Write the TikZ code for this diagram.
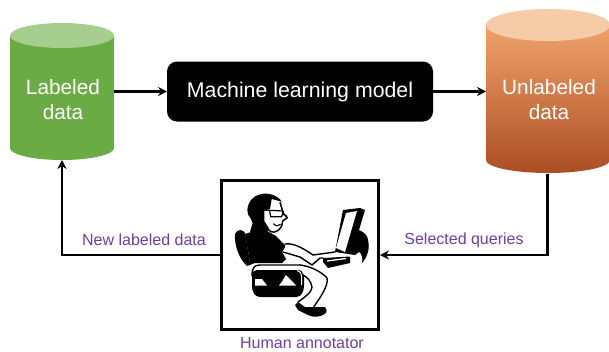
\documentclass[tikz,border=0pt]{standalone}
\usepackage{fontspec}
\setmainfont{Liberation Sans}
\usetikzlibrary{arrows.meta}
\definecolor{grn}{HTML}{6AAB46}
\definecolor{grntop}{HTML}{A6CE8E}
\definecolor{orgtop}{HTML}{F6CBA8}
\definecolor{purp}{HTML}{6F3FA0}
\tikzset{
 x=1pt,y=-1pt,
 anchorbox/.style={minimum width=#1,inner sep=0pt,outer sep=0pt},
 celltext/.style={text=white,font=\fontsize{20.8}{25}\selectfont,align=center},
 flow/.style={line width=2.8pt,-{Stealth[length=9pt,width=9pt]}},
 lab/.style={text=purp,inner sep=0pt,font=\fontsize{16}{16}\selectfont},
 inkline/.style={draw=black,line width=1.4pt,fill=none,line join=round,line cap=round},
}
\begin{document}
\begin{tikzpicture}
\useasboundingbox (0,0) rectangle (609,351);
\fill[white] (0,0) rectangle (609,351);
% green cylinder
\fill[grn] (10,35.5) -- (10,148) arc[start angle=180,end angle=360,x radius=52,y radius=-12] -- (114,35.5) -- cycle;
\fill[grntop] (62,35.5) ellipse[x radius=52,y radius=12.5];
% orange cylinder
\begin{scope}
\clip (0,0) rectangle (609,351);
\shade[top color={rgb,255:red,240;green,162;blue,106},middle color={rgb,255:red,232;green,128;blue,50},bottom color={rgb,255:red,172;green,78;blue,36}]
  (486,25) -- (486,160) arc[start angle=180,end angle=360,x radius=62,y radius=-13] -- (610,25) -- cycle;
\fill[orgtop] (548,25) ellipse[x radius=62,y radius=16];
\end{scope}
\node[anchorbox=104pt,minimum height=137pt] (labeled) at (62,91.5) {};
\node[anchorbox=123pt,minimum height=164pt] (unlabeled) at (547.5,91.5) {};
\node[celltext] (labeledtext) at (63,100) {Labeled\\data};
\node[celltext] (unlabeledtext) at (549,100) {Unlabeled\\data};
% model
\node[fill=black,rounded corners=10pt,minimum width=266pt,minimum height=60pt,inner sep=0pt,outer sep=0pt,text=white,font=\fontsize{21.3}{24}\selectfont] (model) at (300,91.5) {Machine learning model};
% annotator
\node[draw=black,line width=3pt,fill=white,minimum width=157pt,minimum height=149pt,inner sep=0pt,outer sep=1.5pt] (annot) at (300,255) {};
% connectors
\draw[flow] (labeled.east) -- (model.west);
\draw[flow] (model.east) -- (unlabeled.west);
\draw[flow] (annot.west) -| (labeled.south);
\draw[flow] (unlabeled.south) |- (annot.east);
\node[lab] (newlab) at (144,240) {New labeled data};
\node[lab] (selq) at (464,240) {Selected queries};
\node[lab] (humann) at (302,343) {Human annotator};
% --- person ---
% chair back
\fill[black] (235,234) .. controls (237,229) and (243,229) .. (245,233) -- (250,262) -- (247,266) .. controls (240,260) and (234,246) .. (235,234) -- cycle;
% seat
\draw[inkline] (252,276) .. controls (252,268) and (254,265) .. (260,265) -- (300,265);
\fill[black] (252,276) .. controls (252,272) and (254,270) .. (257,270) -- (298,270) .. controls (302,270) and (304,273) .. (304,278) -- (304,286) .. controls (304,292) and (301,297) .. (296,297) -- (260,297) .. controls (255,297) and (252,292) .. (252,286) -- cycle;
\fill[white] (255,279) .. controls (259,279) and (261,279) .. (262,279) -- (267,285.5) -- (255,285.5) -- cycle;
\fill[white] (279,285.5) .. controls (282,282) and (284,278) .. (286,275) .. controls (289,278) and (293,282) .. (296,285.5) -- cycle;
\draw[white,line width=1pt] (297,270.5) .. controls (300,271) and (301.5,273) .. (301.5,276) -- (301.5,285);
% leg
\fill[white] (300,266) .. controls (310,267) and (322,272) .. (327,278) .. controls (329,285) and (320,298) .. (313,308) -- (298,302) .. controls (308,295) and (312,290) .. (312,287) .. controls (310,280) and (307,276) .. (303,274) -- cycle;
\draw[inkline] (300,265) .. controls (310,266) and (322,272) .. (327,278) .. controls (329,285) and (320,298) .. (313,308);
\draw[inkline] (303,275) .. controls (307,277) and (311,281) .. (312,287) .. controls (312,292) and (305,297) .. (298,302);
% shoe
\fill[black] (295,305) -- (298,302) .. controls (301,304) and (303,306) .. (305,307) -- (325,307) .. controls (327,309) and (327,311) .. (326,313) .. controls (322,317) and (313,318) .. (308,315) -- (298,310) -- cycle;
% torso
\fill[black] (245,234) .. controls (252,231) and (260,231) .. (267,231) -- (276,236) -- (286,246) -- (282,252) -- (286,259) -- (282,263) -- (255,263) -- (247,266) -- (250,262) -- cycle;
% head
\begin{scope}[shift={(230,185)},x=0.3333pt,y=-0.3333pt]
\fill[black] (52,75) .. controls (54,50) and (70,32) .. (90,28) .. controls (110,22) and (140,28) .. (156,50) -- (125,42) -- (120,72) -- (103,76) -- (103,108) -- (118,132) -- (105,145) -- (60,140) -- (68,115) -- (62,100) .. controls (55,95) and (52,85) .. (52,75) -- cycle;
\draw[black,line width=1.5pt,line join=round] (150,52) -- (160,85) -- (172,98) -- (158,108) .. controls (158,118) and (155,125) .. (147,134) .. controls (138,142) and (125,145) .. (116,135);
\draw[black,line width=1.1pt] (130,116) .. controls (138,124) and (146,124) .. (152,118);
\draw[black,line width=1.2pt] (100,75) -- (160,78) (119,78) -- (122,95) -- (155,95) -- (160,78) (157,88) -- (170,92);
\end{scope}
% arm
\fill[white] (286,243) .. controls (292,243) and (300,244) .. (313,255) -- (335,252) -- (335,256) -- (323,260) -- (320,258) -- (312,265) -- (300,257) -- (284,252) -- cycle;
\draw[inkline] (285,244) .. controls (292,243) and (300,246) .. (313,255) -- (335,252);
\draw[inkline] (283,252) -- (300,257) -- (312,265) -- (320,258) -- (323,258);
% keyboard
\fill[black] (323,258) -- (350,256.5) -- (350,263) -- (328,268) -- (323,262) -- cycle;
\draw[white,line width=1.3pt] (327,261) -- (346,258.5);
% monitor
\fill[black] (343,210) -- (360,208) -- (365,210) -- (362,220) -- (359,230) .. controls (364,232) and (368,236) .. (368,240) .. controls (370,248) and (368,256) .. (362,263) .. controls (363,258) and (362,254) .. (359,252) -- (355,255) -- (335,252) -- cycle;
\fill[white] (346,213) -- (357,211) -- (345,252) -- (336,248) -- cycle;
\end{tikzpicture}
\end{document}
